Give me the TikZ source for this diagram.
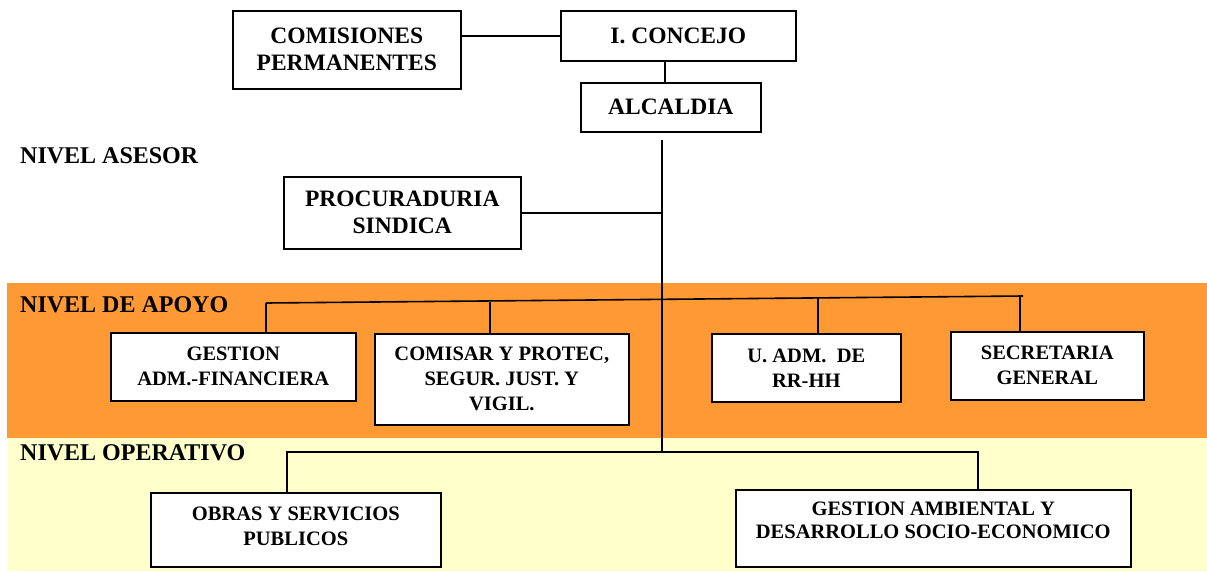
\documentclass[tikz,border=0pt]{standalone}
\usepackage{fontspec}
\setmainfont{Liberation Serif}
\definecolor{orangeband}{RGB}{255,153,51}
\definecolor{yellowband}{RGB}{255,255,204}
\begin{document}
\begin{tikzpicture}[x=1pt,y=-1pt,
  box/.style={draw,line width=1.6pt,fill=white,align=center,anchor=north west,inner sep=0pt,
    font=\bfseries\fontsize{20.5}{25}\selectfont},
  topbox/.style={box,font=\bfseries\fontsize{23.5}{27}\selectfont},
  lvl/.style={anchor=west,inner sep=0pt,font=\bfseries\fontsize{24}{28}\selectfont},
  conn/.style={line width=1.6pt}]
\useasboundingbox (0,0) rectangle (1207,571);
\fill[orangeband] (7,283) rectangle (1207,438);
\fill[yellowband] (7,438) rectangle (1207,571);
% level labels
\node[lvl] (asesor) at (20,156) {NIVEL ASESOR};
\node[lvl] (apoyo) at (20,305) {NIVEL DE APOYO};
\node[lvl] (operativo) at (20,453) {NIVEL OPERATIVO};
% boxes
\node[topbox,minimum width=228,minimum height=78] (comis) at (232,10) {COMISIONES\\PERMANENTES};
\node[topbox,minimum width=235,minimum height=50] (concejo) at (560,10) {I. CONCEJO};
\node[topbox,minimum width=180,minimum height=49] (alcaldia) at (580,82) {ALCALDIA};
\node[topbox,minimum width=237,minimum height=72] (procu) at (283,176) {PROCURADURIA\\SINDICA};
\node[box,minimum width=245,minimum height=68] (gestion) at (110,332) {GESTION\\ADM.-FINANCIERA};
\node[box,minimum width=254,minimum height=91] (comisar) at (374,333) {COMISAR Y PROTEC,\\SEGUR. JUST. Y\\VIGIL.};
\node[box,minimum width=189,minimum height=68] (uadm) at (711,333) {U. ADM.~ DE\\RR-HH};
\node[box,minimum width=193,minimum height=68] (secre) at (950,331) {SECRETARIA\\GENERAL};
\node[box,minimum width=290,minimum height=74] (obras) at (150,492) {OBRAS Y SERVICIOS\\PUBLICOS\\[-17pt]};
\node[box,minimum width=395,minimum height=77] (gamb) at (735,489) {GESTION AMBIENTAL Y\\[-2pt]DESARROLLO SOCIO-ECONOMICO\\[-9pt]};
% helper coordinates
\coordinate (tx) at (665,0);
\coordinate (trunktop) at (662,140);
\coordinate (trunkbot) at (662,452);
\coordinate (busL) at (266,303);
\coordinate (d2) at (490,301.5);
\coordinate (d3) at (818,297.5);
\coordinate (d4) at (1020,296.5);
\coordinate (busR) at (1023,296);
\coordinate (opL) at (287,452);
\coordinate (opR) at (978,452);
% connectors
\draw[conn] (comis.east |- concejo.west) -- (concejo.west);
\draw[conn] (concejo.south -| tx) -- (alcaldia.north -| tx);
\draw[conn] (trunktop) -- (trunkbot);
\draw[conn] (procu.east) -- (procu.east -| trunktop);
\draw[conn] (busL) -- (busR);
\draw[conn] (busL) -- (gestion.north -| busL);
\draw[conn] (d2) -- (comisar.north -| d2);
\draw[conn] (d3) -- (uadm.north -| d3);
\draw[conn] (d4) -- (secre.north -| d4);
\draw[conn] (obras.north -| opL) -- (opL) -- (opR) -- (gamb.north -| opR);
\end{tikzpicture}
\end{document}
